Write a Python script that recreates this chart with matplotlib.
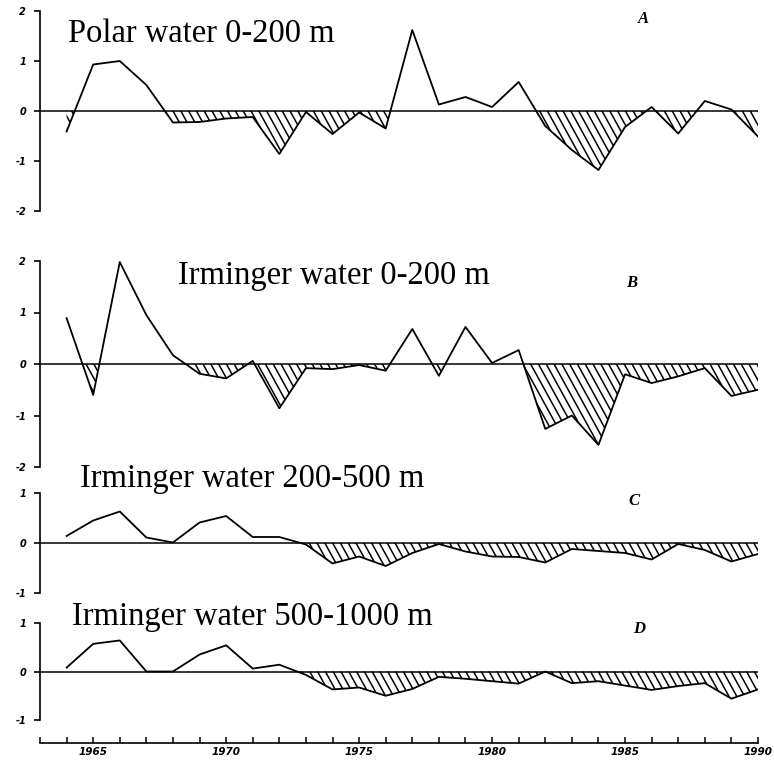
import numpy as np
import matplotlib
matplotlib.use("Agg")
import matplotlib.pyplot as plt
from matplotlib.collections import LineCollection
from matplotlib.patches import PathPatch
from matplotlib.path import Path
from matplotlib.transforms import IdentityTransform

# Anomalies, one value per year 1964-1990
years = np.arange(1964, 1991)

polar_0_200 = [-0.41, 0.93, 1.0, 0.52, -0.23, -0.22, -0.15, -0.12, -0.86, -0.02,
               -0.46, -0.03, -0.35, 1.62, 0.13, 0.28, 0.08, 0.58, -0.3, -0.78,
               -1.18, -0.32, 0.08, -0.45, 0.2, 0.03, -0.51]
irm_0_200 = [0.89, -0.6, 1.98, 0.95, 0.17, -0.19, -0.28, 0.06, -0.86, -0.08,
             -0.1, -0.02, -0.13, 0.68, -0.23, 0.72, 0.02, 0.27, -1.26, -1.0,
             -1.57, -0.2, -0.37, -0.24, -0.08, -0.62, -0.5]
irm_200_500 = [0.14, 0.45, 0.63, 0.11, 0.01, 0.41, 0.54, 0.12, 0.12, -0.03,
               -0.41, -0.27, -0.46, -0.2, -0.02, -0.17, -0.27, -0.28, -0.39, -0.12,
               -0.16, -0.2, -0.33, -0.02, -0.14, -0.37, -0.22]
irm_500_1000 = [0.08, 0.57, 0.64, 0.0, 0.0, 0.35, 0.54, 0.06, 0.14, -0.07,
                -0.37, -0.33, -0.5, -0.36, -0.11, -0.15, -0.2, -0.25, 0.0, -0.24,
                -0.2, -0.29, -0.38, -0.3, -0.24, -0.56, -0.37]

titles = ["Polar water 0-200 m", "Irminger water 0-200 m",
          "Irminger water 200-500 m", "Irminger water 500-1000 m"]
letters = ["A", "B", "C", "D"]
label_years = [1965, 1970, 1975, 1980, 1985, 1990]

plt.rcParams['axes.unicode_minus'] = False

W, H = 774, 762
fig = plt.figure(figsize=(W / 100, H / 100), dpi=100)


def px_box(top, bottom, left=40, right=758):
    return [left / W, 1 - bottom / H, (right - left) / W, (bottom - top) / H]


def steep_hatch(ax, coll, spacing=7.8, lean=0.55):
    # hand-drawn look: steep "\" strokes clipped to the negative areas
    paths = coll.get_paths()
    if not paths:
        return
    clip = PathPatch(Path.make_compound_path(*paths), transform=ax.transData,
                     facecolor='none', edgecolor='none')
    ax.add_patch(clip)
    segs = []
    for x0 in np.arange(-200, W + 50, spacing):
        segs.append([(x0, H), (x0 + lean * H, 0)])
    lc = LineCollection(segs, colors='black', linewidths=1.1,
                        transform=IdentityTransform(), zorder=2)
    ax.add_collection(lc, autolim=False)
    lc.set_clip_path(clip)


panels = [
    (polar_0_200, px_box(11, 211), 2, (68, 42), (638, 23)),
    (irm_0_200, px_box(261, 467), 2, (178, 284), (626, 287)),
    (irm_200_500, px_box(493, 593), 1, (80, 487), (628, 505)),
    (irm_500_1000, px_box(623, 720), 1, (72, 625), (633, 633)),
]

serif = ['Liberation Serif', 'DejaVu Serif']
axes = []
for i, (vals, box, lim, tpos, lpos) in enumerate(panels):
    ax = fig.add_axes(box)
    vals = np.array(vals)
    ax.set_xlim(1963, 1990)
    ax.set_ylim(-lim, lim)
    ax.axhline(0, color='black', lw=1.1, zorder=1)
    ax.plot(years, vals, color='black', lw=1.3, zorder=3)
    neg = ax.fill_between(years, vals, 0, where=vals < 0, interpolate=True,
                          facecolor='none', edgecolor='none', linewidth=0)
    steep_hatch(ax, neg)
    ax.set_yticks(np.arange(-lim, lim + 1))
    ax.tick_params(axis='y', direction='out', length=4, width=1.2, pad=6,
                   labelsize=7)
    for t in ax.get_yticklabels():
        t.set_fontstyle('italic')
        t.set_fontweight('bold')
    for s in ['top', 'right']:
        ax.spines[s].set_visible(False)
    ax.spines['left'].set_linewidth(1.2)
    if i < 3:
        ax.spines['bottom'].set_visible(False)
        ax.set_xticks([])
    fig.text(tpos[0] / W, 1 - tpos[1] / H, titles[i], family=serif,
             fontsize=23.5, ha='left', va='baseline')
    fig.text(lpos[0] / W, 1 - lpos[1] / H, letters[i], family=serif,
             fontsize=12, fontstyle='italic', fontweight='bold',
             ha='left', va='baseline')
    axes.append(ax)

# shared year axis below the last panel
ax = axes[-1]
ax.spines['bottom'].set_position(('outward', 16.5))
ax.spines['bottom'].set_linewidth(1.2)
ax.set_xticks(label_years)
ax.set_xticks(np.arange(1963, 1991), minor=True)
ax.tick_params(axis='x', which='both', direction='in', length=4, width=1.1,
               labelsize=7.5, pad=3)
for t in ax.get_xticklabels():
    t.set_fontstyle('italic')
    t.set_fontweight('bold')

fig.savefig('out.png', dpi=100)
